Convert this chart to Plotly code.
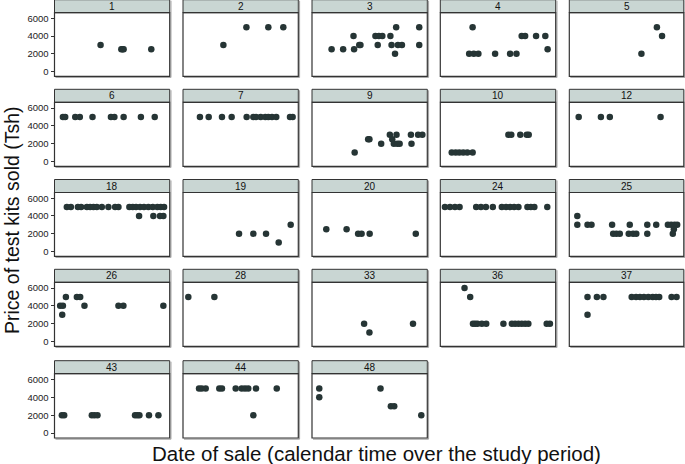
import plotly.graph_objects as go

W, H = 685, 464

panels = ["1", "2", "3", "4", "5", "6", "7", "9", "10", "12", "18", "19", "20",
          "24", "25", "26", "28", "33", "36", "37", "43", "44", "48"]

x_1 = [40, 58, 59, 60, 84]
y_1 = [3000, 2500, 2500, 2500, 2500]
x_2 = [35, 55, 74, 87]
y_2 = [3000, 5000, 5000, 5000]
x_3 = [17, 27, 36, 36.5, 41, 42, 55, 58, 61, 57, 68, 69, 73, 72, 74.5, 78, 93, 93]
y_3 = [2500, 2500, 4000, 2500, 3000, 3000, 4000, 4000, 4000, 3000, 4000, 3000, 5000, 2000, 3000, 3000, 5000, 3000]
x_4 = [28, 25, 29, 33, 47.5, 60.5, 66, 70.5, 73.5, 83, 91, 93]
y_4 = [5000, 2000, 2000, 2000, 2000, 2000, 2000, 4000, 4000, 4000, 4000, 2500]
x_5 = [63, 76.5, 81]
y_5 = [2000, 5000, 4000]
x_6 = [7.3, 9.3, 18, 22, 33, 49, 52, 60, 75, 87]
y_6 = [5000] * 10
x_7 = [14.7, 22.3, 33.8, 42.2, 55.2, 61, 63.3, 67.4, 71.4, 74, 77.2, 80.9, 92.8, 95.1]
y_7 = [5000] * 14
x_9 = [37, 48.7, 49.8, 60, 67.5, 73.3, 69.6, 71, 74, 76, 85.8, 86.3, 92, 95.7]
y_9 = [1000, 2500, 2500, 2000, 3000, 3000, 2500, 2000, 2000, 2000, 3000, 2000, 3000, 3000]
x_10 = [9.9, 13.3, 16.5, 19.9, 23.4, 28, 59, 61.5, 69.3, 74.9, 76.6]
y_10 = [1000, 1000, 1000, 1000, 1000, 1000, 3000, 3000, 3000, 3000, 3000]
x_12 = [8.2, 27.6, 35.4, 79.7]
y_12 = [5000, 5000, 5000, 5000]
x_18 = [10.7, 14.2, 20.3, 23.1, 28.1, 30.9, 33.8, 36.7, 41.1, 46.8, 52.6, 55.5, 65, 67.9,
        70.8, 74.3, 77.7, 81.5, 85.3, 89.3, 92.2, 95.1, 73.4, 85.8, 91.6, 94.5]
y_18 = [5000] * 22 + [4000] * 4
x_19 = [48.6, 61, 72, 83, 93.4]
y_19 = [2000, 2000, 2000, 1000, 3000]
x_20 = [12.4, 30, 40, 43, 50, 90]
y_20 = [2500, 2500, 2000, 2000, 2000, 2000]
x_24 = [4, 8.4, 12.7, 16.7, 31.1, 35.2, 39.5, 45.5, 53.3, 57, 60.5, 64, 67.7, 75.5, 78.4, 81.5, 92.7]
y_24 = [5000] * 17
x_25 = [7, 7, 15.9, 19.4, 37.4, 38.3, 41.1, 44.1, 52.8, 51.9, 55.7, 58.5, 68.1, 68.1,
        75.9, 86.1, 89, 91.9, 94.2, 91.3, 90.4]
y_25 = [4000, 3000, 3000, 3000, 3000, 2000, 2000, 2000, 3000, 2000, 2000, 2000, 3000, 2000,
        3000, 3000, 3000, 3000, 3000, 2500, 2000]
x_26 = [4.9, 7.3, 6.7, 9.9, 19.4, 22.3, 26, 55.5, 59.8, 94.5]
y_26 = [4000, 4000, 3000, 5000, 5000, 5000, 4000, 4000, 4000, 4000]
x_28 = [4.6, 27.2]
y_28 = [5000, 5000]
x_33 = [45.2, 49.8, 87.6]
y_33 = [2000, 1000, 2000]
x_36 = [21, 25.9, 28.3, 30.2, 32.2, 36, 39.8, 54.7, 62, 64.8, 67.7, 70.6, 73.5, 76.3, 92.2, 95]
y_36 = [6000, 5000] + [2000] * 14
x_37 = [15.9, 15.9, 24.1, 29.8, 54.5, 58.3, 61.7, 65.2, 69, 72.8, 75.7, 78.5, 89.3, 93.7]
y_37 = [5000, 3000] + [5000] * 12
x_43 = [6.4, 8.4, 32.4, 34.7, 37.3, 69.9, 71.9, 73.7, 82, 90.2]
y_43 = [2000] * 10
x_44 = [13.9, 16.2, 19.7, 31.5, 33.8, 45.7, 50.9, 53.8, 56.6, 63.3, 81.3, 61]
y_44 = [5000] * 11 + [2000]
x_48 = [6.3, 6.3, 59.4, 68.4, 71.3, 94.8]
y_48 = [5000, 4000, 5000, 3000, 3000, 2000]

y_ticks = [0, 2000, 4000, 6000]

xs = [x_1, x_2, x_3, x_4, x_5, x_6, x_7, x_9, x_10, x_12, x_18, x_19, x_20,
      x_24, x_25, x_26, x_28, x_33, x_36, x_37, x_43, x_44, x_48]
ys = [y_1, y_2, y_3, y_4, y_5, y_6, y_7, y_9, y_10, y_12, y_18, y_19, y_20,
      y_24, y_25, y_26, y_28, y_33, y_36, y_37, y_43, y_44, y_48]

# pixel geometry of the panel grid
col_px = [(54.5, 169.7), (183, 298.3), (312, 427.3), (440.3, 555.7), (569.3, 683.8)]
row_px = [(12.7, 76.3), (102.3, 166.3), (192.5, 256.3), (282.3, 346.3), (373.7, 438.0)]
STRIP = 13.0

fig = go.Figure()
layout = {}
shapes = []
annotations = []

for i, lab in enumerate(panels):
    r, c = divmod(i, 5)
    k = i + 1
    xn = "x" if k == 1 else f"x{k}"
    yn = "y" if k == 1 else f"y{k}"
    x0, x1 = col_px[c]
    yt, yb = row_px[r]
    fig.add_trace(go.Scatter(
        x=xs[i], y=ys[i], mode="markers", xaxis=xn, yaxis=yn,
        marker=dict(color="#263535", size=6.5, line=dict(width=0)),
        showlegend=False, hoverinfo="x+y"))
    layout["xaxis" if k == 1 else f"xaxis{k}"] = dict(
        domain=[x0 / W, x1 / W], range=[0, 100], anchor=yn,
        showticklabels=False, showgrid=False, zeroline=False, ticks="",
        showline=False, fixedrange=True)
    layout["yaxis" if k == 1 else f"yaxis{k}"] = dict(
        domain=[1 - yb / H, 1 - yt / H], range=[-550, 6650], anchor=xn,
        tickvals=y_ticks, showticklabels=(c == 0),
        ticks="outside" if c == 0 else "", ticklen=3, tickwidth=1, tickcolor="#333",
        tickfont=dict(family="Liberation Sans, Arial", size=9.5, color="#222"),
        showgrid=False, zeroline=False, showline=False, fixedrange=True)
    # shadow (right/bottom)
    shapes.append(dict(type="line", xref="paper", yref="paper",
                       x0=(x1 + 1.2) / W, x1=(x1 + 1.2) / W,
                       y0=1 - (yb + 1.2) / H, y1=1 - (yt - STRIP + 1) / H,
                       line=dict(color="#a8a8a8", width=1.2)))
    shapes.append(dict(type="line", xref="paper", yref="paper",
                       x0=(x0 + 1) / W, x1=(x1 + 1.2) / W,
                       y0=1 - (yb + 1.2) / H, y1=1 - (yb + 1.2) / H,
                       line=dict(color="#a8a8a8", width=1.2)))
    # strip
    shapes.append(dict(type="rect", xref="paper", yref="paper",
                       x0=x0 / W, x1=x1 / W, y0=1 - yt / H, y1=1 - (yt - STRIP) / H,
                       fillcolor="#c9d6d3", line=dict(color="#333", width=1), layer="below"))
    # panel border
    shapes.append(dict(type="rect", xref="paper", yref="paper",
                       x0=x0 / W, x1=x1 / W, y0=1 - yb / H, y1=1 - yt / H,
                       fillcolor="rgba(0,0,0,0)", line=dict(color="#333", width=1.2)))
    annotations.append(dict(text=lab, xref="paper", yref="paper",
                            x=(x0 + x1) / 2 / W, y=1 - (yt - STRIP / 2) / H,
                            xanchor="center", yanchor="middle", showarrow=False,
                            font=dict(family="Liberation Sans, Arial", size=10, color="#111")))

annotations.append(dict(text="Price of test kits sold (Tsh)", xref="paper", yref="paper",
                        x=12 / W, y=1 - 220 / H, textangle=-90, showarrow=False,
                        xanchor="center", yanchor="middle",
                        font=dict(family="Liberation Sans, Arial", size=19.5, color="#111")))
annotations.append(dict(text="Date of sale (calendar time over the study period)",
                        xref="paper", yref="paper", x=376 / W, y=1 - 453 / H,
                        showarrow=False, xanchor="center", yanchor="middle",
                        font=dict(family="Liberation Sans, Arial", size=20.5, color="#111")))

fig.update_layout(**layout)
fig.update_layout(width=W, height=H, margin=dict(l=0, r=0, t=0, b=0),
                  paper_bgcolor="white", plot_bgcolor="white",
                  shapes=shapes, annotations=annotations, showlegend=False)

fig.write_html("out.html", config={"displayModeBar": False},
               post_script="document.body.style.margin='0';document.body.style.overflow='hidden';")
